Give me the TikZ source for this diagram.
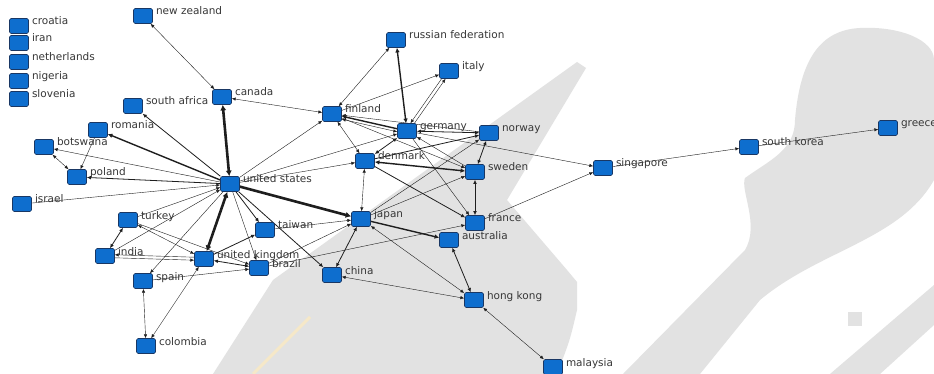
\documentclass[tikz,border=0pt]{standalone}
\usepackage{fontspec}
\setmainfont{DejaVu Sans}
\usetikzlibrary{arrows.meta}
\pgfdeclarelayer{wmk}
\pgfdeclarelayer{edges}
\pgfsetlayers{wmk,edges,main}
\definecolor{nodeblue}{RGB}{14,110,206}
\definecolor{nodeedge}{RGB}{25,55,100}
\definecolor{txt}{RGB}{55,55,55}
\definecolor{wm}{RGB}{226,226,226}
\definecolor{cream}{RGB}{246,232,200}
\definecolor{edgec}{RGB}{30,30,30}
\tikzset{
  cbox/.style={draw=nodeedge, fill=nodeblue, rounded corners=1.5pt, minimum width=19pt, minimum height=15pt, inner sep=0pt, line width=0.6pt},
  lbl/.style={anchor=base west, inner sep=0pt, font=\fontsize{10.5}{12}\selectfont, text=txt},
  e1/.style={line width=0.4pt, draw=edgec},
  e2/.style={line width=0.8pt, draw=edgec},
  e3/.style={line width=1.4pt, draw=edgec},
  e4/.style={line width=2.6pt, draw=edgec},
  >={Latex[length=3.5pt 0.8,width=2.8pt 1.3]}
}
\newcommand\cnode[4]{%
  \node[cbox] (#1) at (#2,#3) {};
  \node[lbl] (#1-t) at ([xshift=3pt,yshift=1pt]#1.east) {#4};}
\begin{document}
\begin{tikzpicture}[x=1pt,y=-1pt]
\useasboundingbox (0,0) rectangle (934,374);
\begin{pgfonlayer}{wmk}
  \fill[white] (0,0) rectangle (934,374);
  \fill[wm] (213,374) -- (273,280) -- (577,62) -- (586,68) -- (507,200) -- (567,270) -- (577,282) -- (577,310) .. controls (570,340) .. (557,374) -- cycle;
  \fill[wm] (623,374) -- (745,250) .. controls (760,225) and (740,190) .. (745,178) .. controls (770,160) and (795,150) .. (795,120) .. controls (800,60) and (820,30) .. (860,28) .. controls (900,26) and (934,40) .. (934,60) -- (934,180) .. controls (900,240) and (820,250) .. (760,300) -- (700,374) -- cycle;
  \fill[wm] (830,374) -- (934,285) -- (934,325) -- (880,374) -- cycle;
  \fill[wm] (848,312) rectangle (862,326);
  \draw[cream, line width=3pt] (253,374) -- (310,317);
\end{pgfonlayer}
% nodes
\cnode{croatia}{19}{26}{croatia}
\cnode{iran}{19}{43}{iran}
\cnode{netherlands}{19}{62}{netherlands}
\cnode{nigeria}{19}{81}{nigeria}
\cnode{slovenia}{19}{99}{slovenia}
\cnode{nz}{143}{16}{new zealand}
\cnode{canada}{222}{97}{canada}
\cnode{safrica}{133}{106}{south africa}
\cnode{romania}{98}{130}{romania}
\cnode{botswana}{44}{147}{botswana}
\cnode{poland}{77}{177}{poland}
\cnode{us}{230}{184}{united states}
\cnode{israel}{22}{204}{israel}
\cnode{turkey}{128}{220}{turkey}
\cnode{india}{105}{256}{india}
\cnode{uk}{204}{259}{united kingdom}
\cnode{brazil}{259}{268}{brazil}
\cnode{taiwan}{265}{230}{taiwan}
\cnode{spain}{143}{281}{spain}
\cnode{colombia}{146}{346}{colombia}
\cnode{russia}{396}{40}{russian federation}
\cnode{italy}{449}{71}{italy}
\cnode{finland}{332}{114}{finland}
\cnode{germany}{407}{131}{germany}
\cnode{norway}{489}{133}{norway}
\cnode{denmark}{365}{161}{denmark}
\cnode{sweden}{475}{172}{sweden}
\cnode{singapore}{603}{168}{singapore}
\cnode{japan}{361}{219}{japan}
\cnode{france}{475}{223}{france}
\cnode{australia}{449}{240}{australia}
\cnode{china}{332}{275}{china}
\cnode{hongkong}{474}{300}{hong kong}
\cnode{malaysia}{553}{367}{malaysia}
\cnode{skorea}{749}{147}{south korea}
\cnode{greece}{888}{128}{greece}
% edges
\begin{pgfonlayer}{edges}
\draw[e1,<->] (nz) -- (canada);
\draw[e4,<->] (us) -- (canada);
\draw[e1,<->] (canada) -- (finland);
\draw[e2,->] (us) -- (safrica);
\draw[e3,->] (us) -- (romania);
\draw[e1,->] (us) -- (botswana);
\draw[e1,<->] (botswana) -- (poland);
\draw[e1,->] (romania) -- (poland);
\draw[e2,->] (us) -- (poland);
\draw[e1,->] (israel) -- (us);
\draw[e1,->] (turkey) -- (us);
\draw[e1,->] (india) -- (us);
\draw[e1,->] (us) -- (spain);
\draw[e1,<->] (spain) -- (colombia);
\draw[e1,<->] (colombia) -- (uk);
\draw[e4,<->] (uk) -- (us);
\draw[e2,->] (us) -- (taiwan);
\draw[e2,->] (uk) -- (taiwan);
\draw[e2,<->] (turkey) -- (india);
\draw[e1,<->] (turkey) -- (uk);
\draw[e1,->] (turkey) -- (brazil);
\draw[e1,->,transform canvas={yshift=1.5pt}] (uk) -- (india);
\draw[e1,->,transform canvas={yshift=-1.5pt}] (india) -- (uk);
\draw[e1,->] (spain) -- (brazil);
\draw[e2,<->] (uk) -- (brazil);
\draw[e1,->] (us) -- (brazil);
\draw[e4,->] (us) -- (japan);
\draw[e2,->] (us) -- (china);
\draw[e1,->] (us) -- (finland);
\draw[e1,->] (us) -- (denmark);
\draw[e1,->] (us) -- (germany);
\draw[e1,->] (taiwan) -- (japan);
\draw[e1,->] (brazil) -- (japan);
\draw[e1,->] (brazil) -- (france);
\draw[e2,<->] (japan) -- (china);
\draw[e1,<->] (japan) -- (hongkong);
\draw[e3,->] (japan) -- (australia);
\draw[e1,<->] (china) -- (hongkong);
\draw[e2,<->] (australia) -- (hongkong);
\draw[e1,<->] (hongkong) -- (malaysia);
\draw[e1,<->] (denmark) -- (japan);
\draw[e1,->] (japan) -- (sweden);
\draw[e1,->] (japan) -- (norway);
\draw[e3,<->] (denmark) -- (sweden);
\draw[e2,->] (denmark) -- (france);
\draw[e2,<->] (sweden) -- (france);
\draw[e2,<->] (norway) -- (sweden);
\draw[e1,->] (france) -- (singapore);
\draw[e1,->] (germany) -- (singapore);
\draw[e1,->] (singapore) -- (skorea);
\draw[e1,->] (skorea) -- (greece);
\draw[e1,<->] (finland) -- (russia);
\draw[e3,<->] (russia) -- (germany);
\draw[e1,->] (finland) -- (italy);
\draw[e1,->,transform canvas={xshift=-2pt}] (italy) -- (germany);
\draw[e1,->,transform canvas={xshift=2pt}] (germany) -- (italy);
\draw[e3,->] (germany) -- (finland);
\draw[e1,<->,transform canvas={yshift=-3pt}] (finland) -- (germany);
\draw[e1,<->] (finland) -- (denmark);
\draw[e2,<->] (germany) -- (denmark);
\draw[e2,<->] (germany) -- (norway);
\draw[e2,->] (denmark) -- (norway);
\draw[e1,->] (sweden) -- (germany);
\draw[e1,->] (finland) -- (sweden);
\draw[e1,->] (norway) -- (finland);
\draw[e1,->] (germany) -- (france);
\end{pgfonlayer}
\end{tikzpicture}
\end{document}
